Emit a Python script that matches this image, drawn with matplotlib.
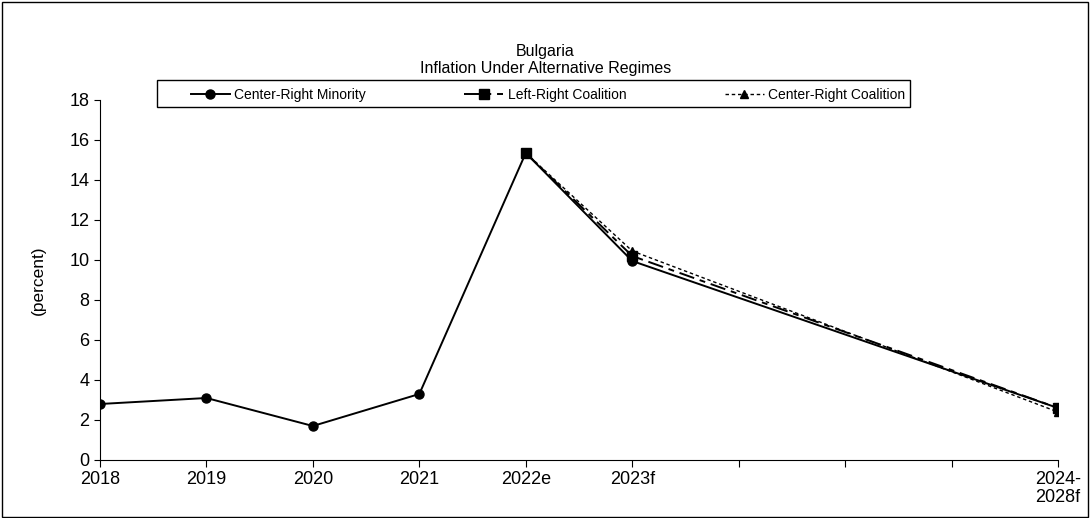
import matplotlib
matplotlib.use("Agg")
import matplotlib.pyplot as plt
import numpy as np
from matplotlib.patches import Rectangle

plt.rcParams["font.family"] = ["Liberation Sans", "DejaVu Sans"]

# x positions 0..9; only some are labelled
tick_labels = ["2018", "2019", "2020", "2021", "2022e", "2023f", "", "", "", "2024-\n2028f"]
x_minority = [0, 1, 2, 3, 4, 5, 9]
center_right_minority = [2.8, 3.1, 1.7, 3.3, 15.35, 9.95, 2.6]
x_coalition = [4, 5, 9]
left_right_coalition = [15.35, 10.2, 2.6]
center_right_coalition = [15.35, 10.45, 2.4]

W, H = 1091, 518
fig = plt.figure(figsize=(W / 100, H / 100), dpi=100)
ax = fig.add_axes([100 / W, 1 - 460 / H, 958 / W, 360 / H])

ax.plot(x_minority, center_right_minority, color="black", linewidth=1.4,
        marker="o", markersize=6.5, label="Center-Right Minority")
ax.plot(x_coalition, left_right_coalition, color="black", linewidth=1.4,
        dashes=(8, 3, 3, 3), marker="s", markersize=6.5, label="Left-Right Coalition")
ax.plot(x_coalition, center_right_coalition, color="black", linewidth=1.0,
        dashes=(2.5, 2), marker="^", markersize=5.5, label="Center-Right Coalition")

ax.set_xlim(0, 9)
ax.set_ylim(0, 18)
ax.set_yticks(np.arange(0, 19, 2))
ax.set_xticks(range(len(tick_labels)))
ax.set_xticklabels(tick_labels, fontsize=13, linespacing=1.05)
ax.tick_params(axis="y", labelsize=13, direction="out", length=4)
ax.tick_params(axis="x", direction="out", length=5, pad=3)
ax.spines["top"].set_visible(False)
ax.spines["right"].set_visible(False)
ax.set_ylabel("(percent)", fontsize=12.5)
ax.yaxis.set_label_coords(-0.056, 0.5)

fig.text(0.5, 1 - 60 / H, "Bulgaria\nInflation Under Alternative Regimes",
         ha="center", va="center", fontsize=11.5, linespacing=1.15)

# legend entries spread across the box, frame drawn separately
leg = fig.legend(loc="lower left", ncol=3, mode="expand", fontsize=10,
                 bbox_to_anchor=(186 / W, 1 - 107 / H, 724 / W, 27 / H),
                 bbox_transform=fig.transFigure, frameon=False,
                 handlelength=2.8, handletextpad=0.3,
                 borderaxespad=0, borderpad=0.35)
fig.patches.append(Rectangle((157 / W, 1 - 107 / H), 753 / W, 27 / H,
                             transform=fig.transFigure, fill=True, facecolor="white",
                             edgecolor="black", linewidth=1.0, zorder=4))
leg.set_zorder(5)

fig.patches.append(Rectangle((0.0015, 0.002), 0.996, 0.995, transform=fig.transFigure,
                             fill=False, edgecolor="black", linewidth=1.0))

fig.savefig("out.png", dpi=100, facecolor="white")
